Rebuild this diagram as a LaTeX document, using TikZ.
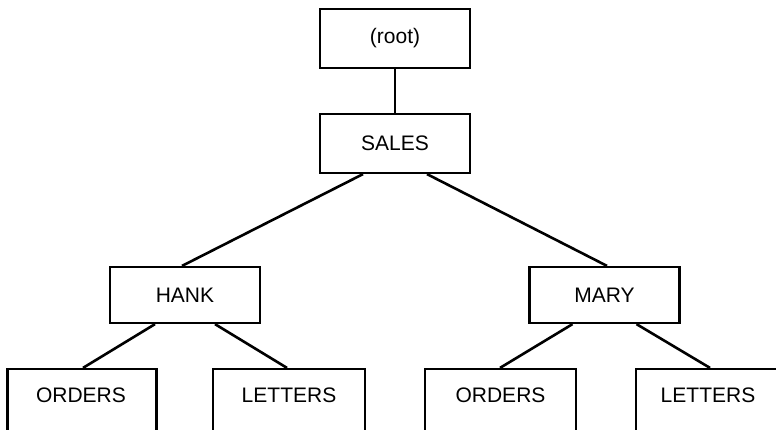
\documentclass[tikz,border=0pt]{standalone}
\usepackage{fontspec}
\setmainfont{Liberation Sans}
\begin{document}
\begin{tikzpicture}[x=1pt,y=-1pt,
  lbl/.style={font=\fontsize{21}{25}\selectfont},
  box/.style={draw,line width=2.2pt,rectangle,minimum width=150pt,inner sep=0pt,lbl},
  link/.style={line width=2.6pt}]
\useasboundingbox (0,0) rectangle (776,429);
\begin{scope}
\clip (0,0) rectangle (776,429);
\node[box,minimum height=59pt] (root) at (395,38.5) {(root)};
\node[box,minimum height=59pt] (sales) at (395,143.5) {SALES};
\node[box,minimum height=56pt] (hank) at (185,295) {HANK};
\node[box,minimum height=56pt] (mary) at (604.5,295) {MARY};
\node[box,minimum width=149pt,minimum height=64pt] (o1) at (82,401) {};
\node[box,minimum width=152pt,minimum height=64pt] (l1) at (289,401) {};
\node[box,minimum width=151pt,minimum height=64pt] (o2) at (500.5,401) {};
\node[box,minimum width=150pt,minimum height=64pt] (l2) at (711,401) {};
\node[lbl] (to1) at (81,395) {ORDERS};
\node[lbl] (tl1) at (289,395) {LETTERS};
\node[lbl] (to2) at (500.5,395) {ORDERS};
\node[lbl] (tl2) at (708,395) {LETTERS};
\end{scope}
\draw[link] (root.south) -- (sales.north);
\draw[link] ([xshift=-32pt]sales.south) -- ([xshift=-3pt]hank.north);
\draw[link] ([xshift=32pt]sales.south) -- ([xshift=2.5pt]mary.north);
\draw[link] ([xshift=-30pt]hank.south) -- ([xshift=1pt]o1.north);
\draw[link] ([xshift=30pt]hank.south) -- ([xshift=-2pt]l1.north);
\draw[link] ([xshift=-32pt]mary.south) -- ([xshift=-0.5pt]o2.north);
\draw[link] ([xshift=32pt]mary.south) -- ([xshift=-1pt]l2.north);
\end{tikzpicture}
\end{document}
